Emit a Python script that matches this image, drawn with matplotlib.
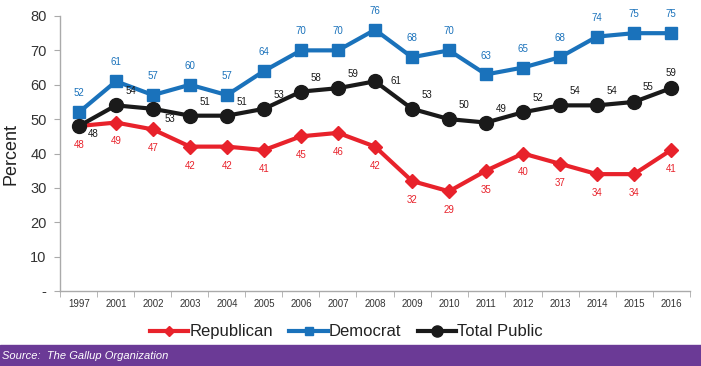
import matplotlib
matplotlib.use("Agg")
import matplotlib.pyplot as plt
from matplotlib.patches import Rectangle
from matplotlib import font_manager

years = ["1997", "2001", "2002", "2003", "2004", "2005", "2006", "2007", "2008",
         "2009", "2010", "2011", "2012", "2013", "2014", "2015", "2016"]
republican = [48, 49, 47, 42, 42, 41, 45, 46, 42, 32, 29, 35, 40, 37, 34, 34, 41]
democrat = [52, 61, 57, 60, 57, 64, 70, 70, 76, 68, 70, 63, 65, 68, 74, 75, 75]
total = [48, 54, 53, 51, 51, 53, 58, 59, 61, 53, 50, 49, 52, 54, 54, 55, 59]
yticks = [0, 10, 20, 30, 40, 50, 60, 70, 80]
ytick_labels = ["-", "10", "20", "30", "40", "50", "60", "70", "80"]

names = {f.name for f in font_manager.fontManager.ttflist}
fam = "Liberation Sans Narrow" if "Liberation Sans Narrow" in names else "Liberation Sans"
plt.rcParams["font.family"] = [fam, "DejaVu Sans"]

RED = "#e8222b"
BLUE = "#1a72bb"
BLACK = "#1a1a1a"
PURPLE = "#6b3a96"

fig = plt.figure(figsize=(7.01, 3.66), dpi=100)
ax = fig.add_axes([0.0863, 0.2049, 0.8973, 0.7514])
x = list(range(len(years)))

ax.plot(x, republican, color=RED, lw=3, marker="D", ms=7, label="Republican", zorder=3)
ax.plot(x, democrat, color=BLUE, lw=3, marker="s", ms=8, label="Democrat", zorder=3)
ax.plot(x, total, color=BLACK, lw=3, marker="o", ms=10, label="Total Public", zorder=4)

for i, v in enumerate(democrat):
    ax.annotate(str(v), (i, v), xytext=(0, 10), textcoords="offset points",
                ha="center", va="bottom", fontsize=7, color=BLUE)
for i, v in enumerate(republican):
    ax.annotate(str(v), (i, v), xytext=(0, -10), textcoords="offset points",
                ha="center", va="top", fontsize=7, color=RED)
tot_off = {0: (10, -6), 2: (12, -7), 8: (15, 0), 15: (10, 11), 16: (0, 11)}
for i, v in enumerate(total):
    dx, dy = tot_off.get(i, (11, 10))
    ax.annotate(str(v), (i, v), xytext=(dx, dy), textcoords="offset points",
                ha="center", va="center", fontsize=7, color=BLACK)

ax.set_xlim(-0.5, len(years) - 0.5)
ax.set_ylim(0, 80)
ax.set_yticks(yticks)
ax.set_yticklabels(ytick_labels, fontsize=10.5, color="#333333")
ax.set_xticks(x)
ax.set_xticklabels(years, fontsize=7, color="#333333")
ax.set_xticks([i - 0.5 for i in range(len(years) + 1)], minor=True)
ax.tick_params(axis="x", which="major", length=0, pad=6)
ax.tick_params(axis="x", which="minor", length=4, color="#aaaaaa")
ax.tick_params(axis="y", length=4, color="#aaaaaa", pad=6)
for s in ["top", "right"]:
    ax.spines[s].set_visible(False)
for s in ["left", "bottom"]:
    ax.spines[s].set_color("#aaaaaa")
    ax.spines[s].set_linewidth(1)
ax.set_ylabel("Percent", fontsize=13, color="#222222", labelpad=8)

leg = fig.legend(loc="center", bbox_to_anchor=(0.494, 0.093), ncol=3, frameon=False,
                 fontsize=12, handlelength=2.3, handletextpad=0.05, columnspacing=1.0,
                 markerscale=0.8)
for t in leg.get_texts():
    t.set_color("#222222")

fig.patches.append(Rectangle((0, 0), 1, 0.057, transform=fig.transFigure,
                             color=PURPLE, zorder=0))
fig.text(0.003, 0.028, "Source:  The Gallup Organization", color="white",
         fontsize=8, style="italic", va="center", ha="left")

fig.savefig("out.png", dpi=100)
